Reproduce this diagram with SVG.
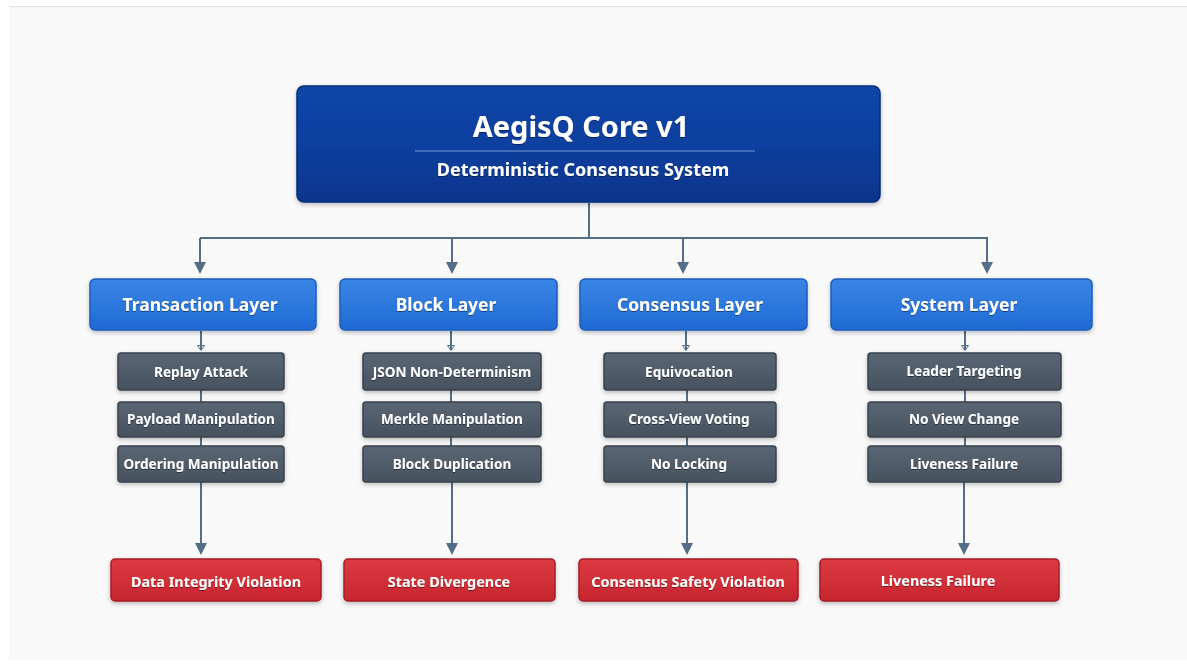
<svg xmlns="http://www.w3.org/2000/svg" width="1187" height="666" viewBox="0 0 1187 666">
<defs>
<linearGradient id="gTop" x1="0" y1="0" x2="0" y2="1"><stop offset="0" stop-color="#0d46a8"/><stop offset="0.5" stop-color="#0a3f9f"/><stop offset="1" stop-color="#07358c"/></linearGradient>
<linearGradient id="gLayer" x1="0" y1="0" x2="0" y2="1"><stop offset="0" stop-color="#3a86e6"/><stop offset="1" stop-color="#1f6ad3"/></linearGradient>
<linearGradient id="gThreat" x1="0" y1="0" x2="0" y2="1"><stop offset="0" stop-color="#5a6674"/><stop offset="1" stop-color="#47525f"/></linearGradient>
<linearGradient id="gRed" x1="0" y1="0" x2="0" y2="1"><stop offset="0" stop-color="#dc3a42"/><stop offset="1" stop-color="#c6262f"/></linearGradient>
<filter id="sh" x="-10%" y="-20%" width="120%" height="150%"><feDropShadow dx="0" dy="2" stdDeviation="2" flood-color="#000" flood-opacity="0.25"/></filter>
<filter id="ts" x="-5%" y="-20%" width="110%" height="150%"><feDropShadow dx="0" dy="1" stdDeviation="0.6" flood-color="#000" flood-opacity="0.45"/></filter>
<marker id="arr" markerWidth="12" markerHeight="12" refX="10" refY="6" orient="auto" markerUnits="userSpaceOnUse" viewBox="0 0 12 12"><path d="M0,0 L12,6 L0,12 Z" fill="#546e88"/></marker>
<marker id="arrS" markerWidth="6" markerHeight="8" refX="5" refY="4" orient="auto" markerUnits="userSpaceOnUse" viewBox="0 0 6 8"><path d="M0.5,0.5 L5.5,4 L0.5,7.5 Z" fill="none" stroke="#546e88" stroke-width="1"/></marker>
</defs>
<style>
text{font-family:"Noto Sans","Open Sans","DejaVu Sans",sans-serif;font-weight:bold;fill:#fff;text-anchor:middle;filter:url(#ts)}
.top{fill:url(#gTop);stroke:#062c7c;stroke-width:1.5}
.layer{fill:url(#gLayer);stroke:#1a5cbe;stroke-width:1.5}
.threat{fill:url(#gThreat);stroke:#38424d;stroke-width:1.5}
.red{fill:url(#gRed);stroke:#a81c24;stroke-width:1.5}
.ln{fill:none;stroke:#546e88;stroke-width:2}
.t1{font-size:29px}
.t2{font-size:18px}
.tl{font-size:17.5px}
.tt{font-size:13.6px}
.tr{font-size:14.4px}
</style>
<rect x="0" y="0" width="1187" height="666" fill="#ffffff"/>
<rect x="9" y="7" width="1178" height="653" fill="#f9f9f9"/>
<line x1="9" y1="6.5" x2="1187" y2="6.5" stroke="#e2e2e2" stroke-width="1"/>

<g id="connectors">
<path class="ln" d="M589,203 V238 M200,238 H988"/>
<path class="ln" d="M200,238 V272" marker-end="url(#arr)"/>
<path class="ln" d="M452,238 V272" marker-end="url(#arr)"/>
<path class="ln" d="M683,238 V272" marker-end="url(#arr)"/>
<path class="ln" d="M987,238 V272" marker-end="url(#arr)"/>

<path class="ln" stroke-width="1.5" d="M201,331 V350" marker-end="url(#arrS)"/>
<path class="ln" stroke-width="1.5" d="M451,331 V350" marker-end="url(#arrS)"/>
<path class="ln" stroke-width="1.5" d="M686,331 V350" marker-end="url(#arrS)"/>
<path class="ln" stroke-width="1.5" d="M965,331 V350" marker-end="url(#arrS)"/>

<path class="ln" stroke-width="1.5" d="M201,390 V402 M201,437 V446 M451,390 V402 M451,437 V446 M687,390 V402 M687,437 V446 M965,390 V402 M965,437 V446"/>

<path class="ln" d="M201,482 V553" marker-end="url(#arr)"/>
<path class="ln" d="M452,482 V553" marker-end="url(#arr)"/>
<path class="ln" d="M687,482 V553" marker-end="url(#arr)"/>
<path class="ln" d="M964,482 V553" marker-end="url(#arr)"/>
</g>

<g id="core">
<rect class="top" x="297" y="86" width="583" height="116" rx="7" filter="url(#sh)"/>
<text class="t1" x="581" y="137">AegisQ Core v1</text>
<line x1="415" y1="151" x2="755" y2="151" stroke="#8fb0e0" stroke-width="1.2" opacity="0.8"/>
<text class="t2" x="583" y="176">Deterministic Consensus System</text>
</g>

<g id="transaction-layer"><rect class="layer" x="90" y="279" width="226" height="51" rx="5" filter="url(#sh)"/><text class="tl" x="200" y="311">Transaction Layer</text></g>
<g id="block-layer"><rect class="layer" x="340" y="279" width="217" height="51" rx="5" filter="url(#sh)"/><text class="tl" x="446" y="311">Block Layer</text></g>
<g id="consensus-layer"><rect class="layer" x="580" y="279" width="227" height="51" rx="5" filter="url(#sh)"/><text class="tl" x="690" y="311">Consensus Layer</text></g>
<g id="system-layer"><rect class="layer" x="831" y="279" width="261" height="51" rx="5" filter="url(#sh)"/><text class="tl" x="959" y="311">System Layer</text></g>

<g id="replay-attack"><rect class="threat" x="118" y="353" width="166" height="37" rx="3" filter="url(#sh)"/><text class="tt" x="201" y="377">Replay Attack</text></g>
<g id="payload-manipulation"><rect class="threat" x="118" y="402" width="166" height="35" rx="3" filter="url(#sh)"/><text class="tt" x="201" y="424">Payload Manipulation</text></g>
<g id="ordering-manipulation"><rect class="threat" x="118" y="446" width="166" height="36" rx="3" filter="url(#sh)"/><text class="tt" x="201" y="469">Ordering Manipulation</text></g>

<g id="json-non-determinism"><rect class="threat" x="363" y="353" width="178" height="37" rx="3" filter="url(#sh)"/><text class="tt" x="452" y="377">JSON Non-Determinism</text></g>
<g id="merkle-manipulation"><rect class="threat" x="363" y="402" width="178" height="35" rx="3" filter="url(#sh)"/><text class="tt" x="452" y="424">Merkle Manipulation</text></g>
<g id="block-duplication"><rect class="threat" x="363" y="446" width="178" height="36" rx="3" filter="url(#sh)"/><text class="tt" x="452" y="469">Block Duplication</text></g>

<g id="equivocation"><rect class="threat" x="604" y="353" width="172" height="37" rx="3" filter="url(#sh)"/><text class="tt" x="689" y="377">Equivocation</text></g>
<g id="cross-view-voting"><rect class="threat" x="604" y="402" width="172" height="35" rx="3" filter="url(#sh)"/><text class="tt" x="689" y="424">Cross-View Voting</text></g>
<g id="no-locking"><rect class="threat" x="604" y="446" width="172" height="36" rx="3" filter="url(#sh)"/><text class="tt" x="689" y="469">No Locking</text></g>

<g id="leader-targeting"><rect class="threat" x="868" y="353" width="193" height="37" rx="3" filter="url(#sh)"/><text class="tt" x="964" y="376">Leader Targeting</text></g>
<g id="no-view-change"><rect class="threat" x="868" y="402" width="193" height="35" rx="3" filter="url(#sh)"/><text class="tt" x="964" y="424">No View Change</text></g>
<g id="liveness-failure-threat"><rect class="threat" x="868" y="446" width="193" height="36" rx="3" filter="url(#sh)"/><text class="tt" x="964" y="469">Liveness Failure</text></g>

<g id="data-integrity-violation"><rect class="red" x="111" y="559" width="210" height="42" rx="4" filter="url(#sh)"/><text class="tr" x="216" y="587">Data Integrity Violation</text></g>
<g id="state-divergence"><rect class="red" x="344" y="559" width="211" height="42" rx="4" filter="url(#sh)"/><text class="tr" x="449" y="587">State Divergence</text></g>
<g id="consensus-safety-violation"><rect class="red" x="579" y="559" width="219" height="42" rx="4" filter="url(#sh)"/><text class="tr" x="688" y="587">Consensus Safety Violation</text></g>
<g id="liveness-failure"><rect class="red" x="820" y="559" width="239" height="42" rx="4" filter="url(#sh)"/><text class="tr" x="938" y="586">Liveness Failure</text></g>
</svg>
